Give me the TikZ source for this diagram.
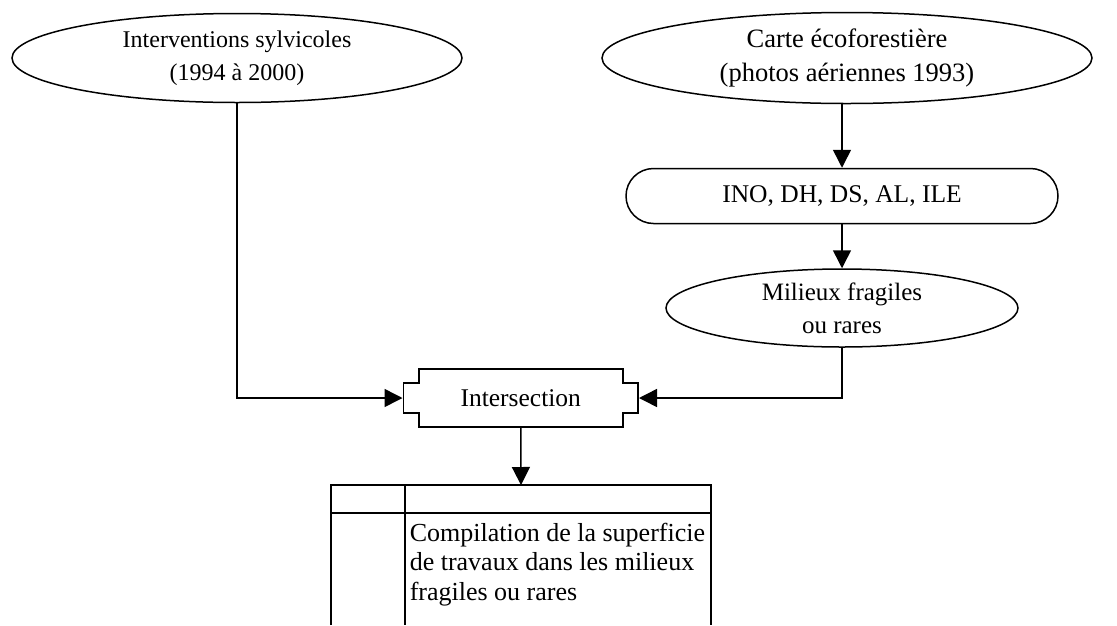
\documentclass[tikz,border=0pt]{standalone}
\usepackage{fontspec}
\setmainfont{Liberation Serif}
\usetikzlibrary{shapes.geometric,shapes.misc,arrows.meta,calc}
\begin{document}
\begin{tikzpicture}[x=1pt,y=-1pt,
  line width=1.5pt,
  oval/.style={draw, ellipse, inner sep=0pt, align=center},
  pill/.style={draw, rounded rectangle, inner sep=0pt, minimum width=432pt,
    minimum height=55pt, font=\fontsize{25.5}{31}\selectfont},
  link/.style={-{Triangle[length=18pt,width=18pt]}}]
\useasboundingbox (0,0) rectangle (1117,625);

% sources
\node[oval, minimum width=450pt, minimum height=89pt,
  font=\fontsize{24}{33}\selectfont] (interv) at (237,58)
  {Interventions sylvicoles\\(1994 à 2000)};
\node[oval, minimum width=490pt, minimum height=91pt,
  font=\fontsize{26.5}{34}\selectfont] (carte) at (847,58)
  {Carte écoforestière\\(photos aériennes 1993)};
\node[pill] (ino) at (842,196) {INO, DH, DS, AL, ILE};
\node[oval, minimum width=352pt, minimum height=78pt,
  font=\fontsize{25}{33}\selectfont] (mil) at (842,308)
  {Milieux fragiles\\ou rares};

% intersection operator with notched corners
\node[minimum width=235pt, minimum height=58pt, inner sep=0pt,
  font=\fontsize{25.5}{31}\selectfont] (inter) at (520.75,398) {Intersection};
\draw (419,369) -- (623,369) -- (623,383) -- (638,383) -- (638,413)
  -- (623,413) -- (623,427) -- (419,427) -- (419,413) -- (403.5,413)
  -- (403.5,383) -- (419,383) -- cycle;

% result table
\coordinate (tabtop) at (521,485);
\draw (331,625) -- (331,485) -- (711,485) -- (711,625);
\draw (331,513) -- (711,513);
\draw (405,485) -- (405,625);
\node[anchor=north west, align=left, inner sep=0pt,
  font=\fontsize{26}{29.5}\selectfont] (comp) at (409,522)
  {Compilation de la superficie\\de travaux dans les milieux\\fragiles ou rares};

% connectors
\draw[link] (interv.south) |- (inter.west);
\draw[link] (ino.north |- carte.south) -- (ino.north);
\draw[link] (ino.south) -- (mil.north);
\draw[link] (mil.south) |- (inter.east);
\draw[link] (inter.south) -- (tabtop);
\end{tikzpicture}
\end{document}
